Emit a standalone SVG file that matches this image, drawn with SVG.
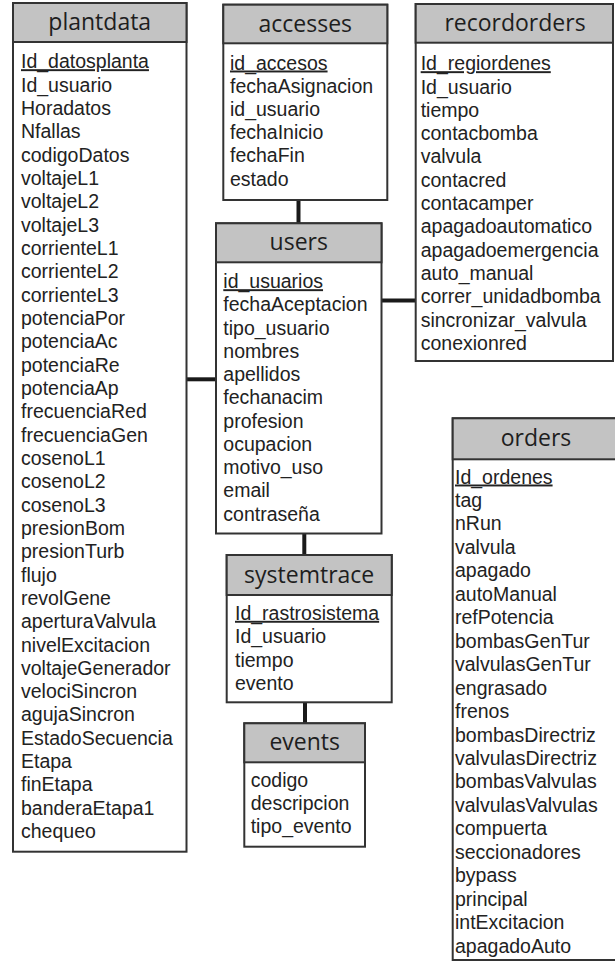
<svg xmlns="http://www.w3.org/2000/svg" width="615" height="963" viewBox="0 0 615 963">
  <style>
    .box { fill: #ffffff; stroke: #333333; stroke-width: 2; }
    .head { fill: #c3c3c3; stroke: #333333; stroke-width: 2; }
    .title { font-family: "Open Sans", "Noto Sans", sans-serif; font-size: 23px; fill: #1e1e1e; text-anchor: middle; }
    .field { font-family: "Liberation Sans", Arial, sans-serif; font-size: 19.5px; fill: #222222; }
    .key { text-decoration: underline; }
    .link { stroke: #1a1a1a; stroke-width: 4; fill: none; }
  </style>
  <rect width="615" height="963" fill="#ffffff"/>

  <!-- relations between tables -->
  <g id="connectors">
    <line class="link" x1="298.5" y1="200" x2="298.5" y2="223.3"/>
    <line class="link" x1="186.5" y1="379.3" x2="216" y2="379.3"/>
    <line class="link" x1="381.5" y1="300.5" x2="415.7" y2="300.5"/>
    <line class="link" x1="304.3" y1="533.5" x2="304.3" y2="555"/>
    <line class="link" x1="305" y1="702.3" x2="305" y2="723.3"/>
  </g>

  <g id="plantdata">
    <rect class="box" x="13" y="3" width="173.5" height="848.7"/>
    <rect class="head" x="13" y="3" width="173.5" height="39"/>
    <text class="title" x="99.75" y="30">plantdata</text>
    <g class="field">
      <text class="key" x="21" y="68.2">Id_datosplanta</text>
      <text x="21" y="91.5">Id_usuario</text>
      <text x="21" y="114.9">Horadatos</text>
      <text x="21" y="138.2">Nfallas</text>
      <text x="21" y="161.5">codigoDatos</text>
      <text x="21" y="184.9">voltajeL1</text>
      <text x="21" y="208.2">voltajeL2</text>
      <text x="21" y="231.5">voltajeL3</text>
      <text x="21" y="254.8">corrienteL1</text>
      <text x="21" y="278.2">corrienteL2</text>
      <text x="21" y="301.5">corrienteL3</text>
      <text x="21" y="324.8">potenciaPor</text>
      <text x="21" y="348.2">potenciaAc</text>
      <text x="21" y="371.5">potenciaRe</text>
      <text x="21" y="394.8">potenciaAp</text>
      <text x="21" y="418.2">frecuenciaRed</text>
      <text x="21" y="441.5">frecuenciaGen</text>
      <text x="21" y="464.8">cosenoL1</text>
      <text x="21" y="488.1">cosenoL2</text>
      <text x="21" y="511.5">cosenoL3</text>
      <text x="21" y="534.8">presionBom</text>
      <text x="21" y="558.1">presionTurb</text>
      <text x="21" y="581.5">flujo</text>
      <text x="21" y="604.8">revolGene</text>
      <text x="21" y="628.1">aperturaValvula</text>
      <text x="21" y="651.5">nivelExcitacion</text>
      <text x="21" y="674.8">voltajeGenerador</text>
      <text x="21" y="698.1">velociSincron</text>
      <text x="21" y="721.4">agujaSincron</text>
      <text x="21" y="744.8">EstadoSecuencia</text>
      <text x="21" y="768.1">Etapa</text>
      <text x="21" y="791.4">finEtapa</text>
      <text x="21" y="814.8">banderaEtapa1</text>
      <text x="21" y="838.1">chequeo</text>
    </g>
  </g>

  <g id="accesses">
    <rect class="box" x="223.3" y="4.7" width="164" height="195.3"/>
    <rect class="head" x="223.3" y="4.7" width="164" height="38.6"/>
    <text class="title" x="305.3" y="31.5">accesses</text>
    <g class="field">
      <text class="key" x="230" y="69.5">id_accesos</text>
      <text x="230" y="92.7">fechaAsignacion</text>
      <text x="230" y="115.9">id_usuario</text>
      <text x="230" y="139.1">fechaInicio</text>
      <text x="230" y="162.3">fechaFin</text>
      <text x="230" y="185.5">estado</text>
    </g>
  </g>

  <g id="recordorders">
    <rect class="box" x="415.7" y="4" width="197.3" height="357"/>
    <rect class="head" x="415.7" y="4" width="197.3" height="38.7"/>
    <text class="title" x="515" y="30.9">recordorders</text>
    <g class="field">
      <text class="key" x="420.7" y="70.2">Id_regiordenes</text>
      <text x="420.7" y="93.5">Id_usuario</text>
      <text x="420.7" y="116.8">tiempo</text>
      <text x="420.7" y="140.1">contacbomba</text>
      <text x="420.7" y="163.4">valvula</text>
      <text x="420.7" y="186.7">contacred</text>
      <text x="420.7" y="210">contacamper</text>
      <text x="420.7" y="233.3">apagadoautomatico</text>
      <text x="420.7" y="256.6">apagadoemergencia</text>
      <text x="420.7" y="279.9">auto_manual</text>
      <text x="420.7" y="303.2">correr_unidadbomba</text>
      <text x="420.7" y="326.5">sincronizar_valvula</text>
      <text x="420.7" y="349.8">conexionred</text>
    </g>
  </g>

  <g id="users">
    <rect class="box" x="216" y="223.3" width="165.5" height="310.2"/>
    <rect class="head" x="216" y="223.3" width="165.5" height="39"/>
    <text class="title" x="298.75" y="250.3">users</text>
    <g class="field">
      <text class="key" x="223.3" y="288.2">id_usuarios</text>
      <text x="223.3" y="311.4">fechaAceptacion</text>
      <text x="223.3" y="334.7">tipo_usuario</text>
      <text x="223.3" y="357.9">nombres</text>
      <text x="223.3" y="381.1">apellidos</text>
      <text x="223.3" y="404.4">fechanacim</text>
      <text x="223.3" y="427.6">profesion</text>
      <text x="223.3" y="450.8">ocupacion</text>
      <text x="223.3" y="474">motivo_uso</text>
      <text x="223.3" y="497.3">email</text>
      <text x="223.3" y="520.5">contraseña</text>
    </g>
  </g>

  <g id="systemtrace">
    <rect class="box" x="226.7" y="555" width="165" height="147.3"/>
    <rect class="head" x="226.7" y="555" width="165" height="40"/>
    <text class="title" x="309.2" y="582.5">systemtrace</text>
    <g class="field">
      <text class="key" x="235" y="619.8">Id_rastrosistema</text>
      <text x="235" y="643.2">Id_usuario</text>
      <text x="235" y="666.5">tiempo</text>
      <text x="235" y="689.9">evento</text>
    </g>
  </g>

  <g id="events">
    <rect class="box" x="244.3" y="723.3" width="120.7" height="123.4"/>
    <rect class="head" x="244.3" y="723.3" width="120.7" height="39"/>
    <text class="title" x="304.7" y="750.3">events</text>
    <g class="field">
      <text x="250.7" y="786.5">codigo</text>
      <text x="250.7" y="809.8">descripcion</text>
      <text x="250.7" y="833.1">tipo_evento</text>
    </g>
  </g>

  <g id="orders">
    <rect class="box" x="452.7" y="418.3" width="166" height="541.7"/>
    <rect class="head" x="452.7" y="418.3" width="166" height="41"/>
    <text class="title" x="536" y="446.3">orders</text>
    <g class="field">
      <text class="key" x="455" y="483.5">Id_ordenes</text>
      <text x="455" y="507">tag</text>
      <text x="455" y="530.4">nRun</text>
      <text x="455" y="553.9">valvula</text>
      <text x="455" y="577.3">apagado</text>
      <text x="455" y="600.8">autoManual</text>
      <text x="455" y="624.2">refPotencia</text>
      <text x="455" y="647.7">bombasGenTur</text>
      <text x="455" y="671.1">valvulasGenTur</text>
      <text x="455" y="694.6">engrasado</text>
      <text x="455" y="718">frenos</text>
      <text x="455" y="741.5">bombasDirectriz</text>
      <text x="455" y="764.9">valvulasDirectriz</text>
      <text x="455" y="788.4">bombasValvulas</text>
      <text x="455" y="811.8">valvulasValvulas</text>
      <text x="455" y="835.3">compuerta</text>
      <text x="455" y="858.7">seccionadores</text>
      <text x="455" y="882.2">bypass</text>
      <text x="455" y="905.6">principal</text>
      <text x="455" y="929.1">intExcitacion</text>
      <text x="455" y="952.5">apagadoAuto</text>
    </g>
  </g>
</svg>
